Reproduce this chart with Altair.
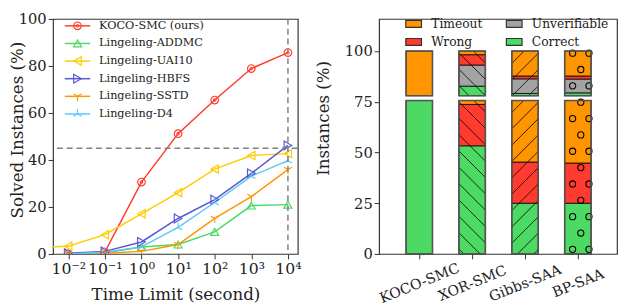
import altair as alt
import pandas as pd
import numpy as np

FONT = "DejaVu Serif"
TXT = "#222222"

# ---------------- left chart data ----------------
time_limits = [1e-3, 1e-2, 1e-1, 1e0, 1e1, 1e2, 1e3, 1e4]
series_names = ["KOCO-SMC (ours)", "Lingeling-ADDMC", "Lingeling-UAI10",
                "Lingeling-HBFS", "Lingeling-SSTD", "Lingeling-D4"]
koco = [None, 0.0, 0.8, 30.6, 51.2, 65.5, 78.9, 85.7]
addmc = [None, 0.0, 0.5, 3.0, 4.0, 9.4, 20.6, 21.0]
uai10 = [2.8, 3.3, 8.2, 17.1, 26.1, 36.1, 41.9, 42.7]
hbfs = [None, 0.3, 1.1, 5.1, 15.1, 23.1, 34.3, 46.2]
sstd = [None, 0.0, 0.3, 1.1, 4.0, 15.1, 24.4, 35.9]
d4 = [None, 0.0, 0.7, 3.0, 11.3, 21.9, 33.1, 39.7]
series_values = [koco, addmc, uai10, hbfs, sstd, d4]
series_colors = ["#FF3B30", "#4CD964", "#FFCC00", "#5856D6", "#FF9500", "#5AC8FA"]
series_shapes = ["circle", "triangle-up", "triangle-left", "triangle-right",
                 "M0,0L0,1M0,0L-0.866,-0.5M0,0L0.866,-0.5",
                 "M0,0L0,-1M0,0L-0.866,0.5M0,0L0.866,0.5"]
series_sizes = [60, 95, 95, 95, 110, 90]
x_tick_values = [1e-2, 1e-1, 1e0, 1e1, 1e2, 1e3, 1e4]
x_tick_labels = ["10⁻²", "10⁻¹", "10⁰", "10¹", "10²", "10³", "10⁴"]
threshold_y = 45.0
threshold_x = 1e4

# ---------------- right chart data ----------------
methods = ["KOCO-SMC", "XOR-SMC", "Gibbs-SAA", "BP-SAA"]
lower_correct = [75.6, 53.3, 25.0, 25.0]
lower_wrong = [0.0, 20.4, 20.3, 19.8]
lower_timeout = [0.0, 1.9, 30.3, 30.8]
upper_base = 78.0
upper_correct = [0.0, 4.7, 1.1, 1.4]
upper_unverifiable = [0.0, 10.4, 7.2, 6.8]
upper_wrong = [0.0, 5.1, 1.4, 1.5]
upper_timeout = [22.0, 1.8, 12.3, 12.3]
hatches = ["", "\\", "/", "o"]
outcome_order = ["Timeout", "Unverifiable", "Wrong", "Correct"]
outcome_colors = ["#FF9500", "#A3A3A3", "#FF3B30", "#4CD964"]
bar_ticks = [0, 25, 50, 75, 100]

# ================= LEFT CHART =================
rows = []
for name, vals in zip(series_names, series_values):
    for t, v in zip(time_limits, vals):
        if v is not None:
            rows.append({"t": t, "val": v, "series": name})
df = pd.DataFrame(rows)

LW, LH = 250, 240
xscale = alt.Scale(type="log", domain=[10 ** -2.415, 10 ** 4.27], nice=False)
yscale = alt.Scale(domain=[0, 100], nice=False)
color_scale = alt.Scale(domain=series_names, range=series_colors)
shape_scale = alt.Scale(domain=series_names, range=series_shapes)
size_scale = alt.Scale(domain=series_names, range=series_sizes)

label_expr = " : ".join(
    f"datum.value == {v} ? '{l}'" for v, l in zip(x_tick_values, x_tick_labels)
) + " : ''"

x_enc = alt.X("t:Q", scale=xscale,
              axis=alt.Axis(values=x_tick_values, labelExpr=label_expr,
                            title="Time Limit (second)", titlePadding=11,
                            labelFontSize=16, grid=False, labelFlush=False))
y_enc = alt.Y("val:Q", scale=yscale,
              axis=alt.Axis(values=[0, 20, 40, 60, 80, 100], title="Solved Instances (%)",
                            titleX=-36, titleY=113, titleBaseline="middle",
                            grid=False))

base = alt.Chart(df)
lines = base.mark_line(strokeWidth=1.5, clip=True).encode(
    x=x_enc, y=y_enc,
    color=alt.Color("series:N", scale=color_scale, legend=None),
)
points = base.mark_point(filled=False, strokeWidth=1.2, opacity=1, clip=True).encode(
    x="t:Q", y="val:Q",
    color=alt.Color("series:N", scale=color_scale, legend=None),
    shape=alt.Shape("series:N", scale=shape_scale, legend=None),
    size=alt.Size("series:N", scale=size_scale, legend=None),
)
inner = base.transform_filter(alt.datum.series == series_names[0]).mark_point(
    filled=False, strokeWidth=1.0, size=8, shape="circle", opacity=1, clip=True
).encode(x="t:Q", y="val:Q", color=alt.Color("series:N", scale=color_scale, legend=None))

hline = alt.Chart(pd.DataFrame({"y": [threshold_y]})).mark_rule(
    color="#808080", strokeWidth=1.5, strokeDash=[6, 4]).encode(y="y:Q")
vline = alt.Chart(pd.DataFrame({"x": [threshold_x]})).mark_rule(
    color="#808080", strokeWidth=1.5, strokeDash=[6, 4]).encode(x="x:Q")

data_layers = alt.layer(lines, points, inner, hline, vline)

leg_df = pd.DataFrame({"series": series_names, "idx": list(range(len(series_names)))})
leg_y = alt.Y("idx:O", scale=alt.Scale(type="point", range=[7, 97], padding=0), axis=None)
leg_base = alt.Chart(leg_df)
leg_line = leg_base.mark_rule(strokeWidth=1.5).encode(
    x=alt.value(12), x2=alt.value(38), y=leg_y,
    color=alt.Color("series:N", scale=color_scale, legend=None))
leg_pt = leg_base.mark_point(filled=False, strokeWidth=1.2, opacity=1).encode(
    x=alt.value(25), y=leg_y,
    color=alt.Color("series:N", scale=color_scale, legend=None),
    shape=alt.Shape("series:N", scale=shape_scale, legend=None),
    size=alt.Size("series:N", scale=size_scale, legend=None))
leg_in = leg_base.transform_filter(alt.datum.idx == 0).mark_point(
    filled=False, strokeWidth=1.0, size=8, shape="circle", opacity=1).encode(
    x=alt.value(25), y=leg_y,
    color=alt.Color("series:N", scale=color_scale, legend=None))
leg_txt = leg_base.mark_text(align="left", baseline="middle", font=FONT,
                             fontSize=11.5, color=TXT).encode(
    x=alt.value(47), y=leg_y, text="series:N")
legend_layers = alt.layer(leg_line, leg_pt, leg_in, leg_txt)

left = alt.layer(data_layers, legend_layers).resolve_scale(y="independent").properties(
    width=LW, height=LH)

# ================= RIGHT CHART =================
RW, RH = 243, 240
XMIN, XMAX = -0.76, 3.74
YMAX = 115.8
KX = RW / (XMAX - XMIN)
KY = RH / YMAX
HALF = 0.25
S = 16.7  # hatch spacing in px

seg_rows, block_rows = [], []
for i, m in enumerate(methods):
    y = 0.0
    for name, arr in [("Correct", lower_correct), ("Wrong", lower_wrong), ("Timeout", lower_timeout)]:
        v = arr[i]
        if v > 0:
            seg_rows.append({"i": i, "x0": i - HALF, "x1": i + HALF, "y0": y, "y1": y + v,
                             "outcome": name, "hatch": hatches[i]})
            y += v
    block_rows.append({"x0": i - HALF, "x1": i + HALF, "y0": 0.0, "y1": y})
    y = upper_base
    for name, arr in [("Correct", upper_correct), ("Unverifiable", upper_unverifiable),
                      ("Wrong", upper_wrong), ("Timeout", upper_timeout)]:
        v = arr[i]
        if v > 0:
            seg_rows.append({"i": i, "x0": i - HALF, "x1": i + HALF, "y0": y, "y1": y + v,
                             "outcome": name, "hatch": hatches[i]})
            y += v
    block_rows.append({"x0": i - HALF, "x1": i + HALF, "y0": upper_base, "y1": y})
seg_df = pd.DataFrame(seg_rows)
block_df = pd.DataFrame(block_rows)

# hatch geometry derived from the segments (decoration)
hl_rows, hc_rows = [], []
for r in seg_rows:
    u0, u1 = (r["x0"] - XMIN) * KX, (r["x1"] - XMIN) * KX
    v0, v1 = r["y0"] * KY, r["y1"] * KY
    if r["hatch"] in ("\\", "/"):
        m = -1.0 if r["hatch"] == "\\" else 1.0
        phase = 3.0 if m < 0 else 9.0
        cmin, cmax = v0 - max(m * u0, m * u1), v1 - min(m * u0, m * u1)
        k0 = int(np.floor((cmin - phase) / S))
        k1 = int(np.ceil((cmax - phase) / S))
        for k in range(k0, k1 + 1):
            c = phase + k * S
            ua, ub = (v0 - c) / m, (v1 - c) / m
            lo, hi = max(u0, min(ua, ub)), min(u1, max(ua, ub))
            if hi - lo > 0.5:
                hl_rows.append({"xa": lo / KX + XMIN, "xb": hi / KX + XMIN,
                                "ya": (m * lo + c) / KY, "yb": (m * hi + c) / KY})
    elif r["hatch"] == "o":
        for k in range(0, int(RH / S) + 2):
            vc = 4.7 + k * S
            off = 0.0 if k % 2 == 1 else S / 2
            for j in range(-14, 4):
                uc = 189.3 + off + j * S
                if u0 + 1.5 <= uc <= u1 - 1.5 and v0 + 1.5 <= vc <= v1 - 1.5:
                    hc_rows.append({"xc": uc / KX + XMIN, "yc": vc / KY})
hl_df = pd.DataFrame(hl_rows)
hc_df = pd.DataFrame(hc_rows)

bx_scale = alt.Scale(domain=[XMIN, XMAX], nice=False, zero=False)
by_scale = alt.Scale(domain=[0, YMAX], nice=False)
fill_scale = alt.Scale(domain=outcome_order, range=outcome_colors)
bar_label_expr = " : ".join(f"datum.value == {i} ? '{m}'" for i, m in enumerate(methods)) + " : ''"

segs = alt.Chart(seg_df).mark_rect(stroke="black", strokeWidth=0.8).encode(
    x=alt.X("x0:Q", scale=bx_scale,
            axis=alt.Axis(values=list(range(len(methods))), labelExpr=bar_label_expr,
                          labelAngle=338, labelAlign="center", labelBaseline="middle",
                          labelPadding=25, labelFontSize=14.5, labelOverlap=False,
                          title=None, grid=False)),
    x2="x1:Q",
    y=alt.Y("y0:Q", scale=by_scale,
            axis=alt.Axis(values=bar_ticks, title="Instances (%)", titleX=-57, titleY=101,
                          titleBaseline="middle", grid=False)),
    y2="y1:Q",
    fill=alt.Fill("outcome:N", scale=fill_scale, legend=None),
)
hlines = alt.Chart(hl_df).mark_rule(color="black", strokeWidth=0.8).encode(
    x="xa:Q", x2="xb:Q", y="ya:Q", y2="yb:Q")
hcircles = alt.Chart(hc_df).mark_point(shape="circle", filled=False, color="black",
                                       strokeWidth=1.1, size=40, opacity=1).encode(
    x="xc:Q", y="yc:Q")
blocks = alt.Chart(block_df).mark_rect(fillOpacity=0, stroke="#555555", strokeWidth=1.6).encode(
    x="x0:Q", x2="x1:Q", y="y0:Q", y2="y1:Q")
bar_layers = alt.layer(segs, hlines, hcircles, blocks)

# manual 2x2 legend for the bar chart
bleg_df = pd.DataFrame({"outcome": outcome_order,
                        "col": [0, 1, 0, 1], "row": [0, 0, 1, 1]})
bleg_x = alt.X("col:O", scale=alt.Scale(type="point", range=[35.3, 138], padding=0), axis=None)
bleg_y = alt.Y("row:O", scale=alt.Scale(type="point", range=[5, 23.5], padding=0), axis=None)
bleg_base = alt.Chart(bleg_df)
bleg_sym = bleg_base.mark_point(shape="M-1,-0.44H1V0.44H-1Z", size=256, filled=True,
                                stroke="#333333", strokeWidth=1.2, opacity=1).encode(
    x=bleg_x, y=bleg_y, fill=alt.Fill("outcome:N", scale=fill_scale, legend=None))
bleg_txt = bleg_base.mark_text(align="left", baseline="middle", dx=18, font=FONT,
                               fontSize=12.5, color=TXT).encode(
    x=bleg_x, y=bleg_y, text="outcome:N")
bleg_layers = alt.layer(bleg_sym, bleg_txt)

right = alt.layer(bar_layers, bleg_layers).resolve_scale(
    x="independent", y="independent").properties(width=RW, height=RH)

chart = alt.hconcat(left, right, spacing=12).properties(padding=0).configure_view(
    stroke="#333333", strokeWidth=1.2
).configure_axis(
    labelFont=FONT, titleFont=FONT, labelFontSize=15, titleFontSize=17,
    labelColor=TXT, titleColor=TXT, titleFontWeight="normal",
    domain=False, tickColor="#333333", tickSize=5, tickWidth=1, labelPadding=2,
)

chart.save("out.html", embed_options={"renderer": "svg", "actions": False})
